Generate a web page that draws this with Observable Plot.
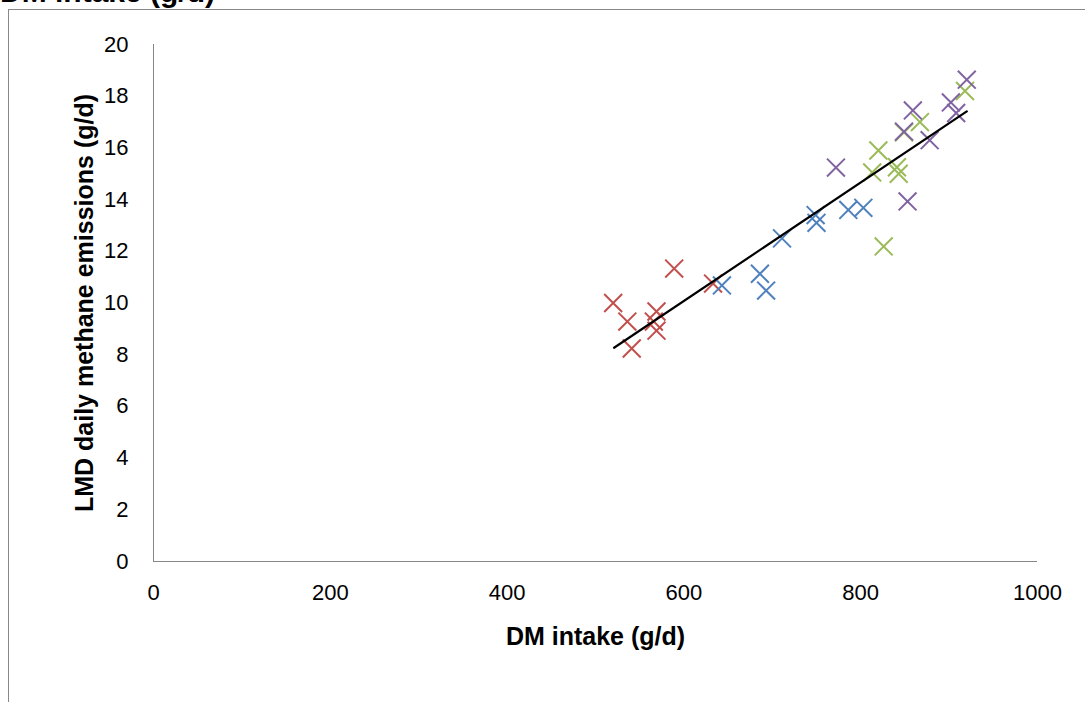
<!DOCTYPE html>
<html><head><meta charset="utf-8">
<script src="https://cdn.jsdelivr.net/npm/d3@7"></script>
<script src="https://cdn.jsdelivr.net/npm/@observablehq/plot@0.6"></script>
<style>
body{margin:0;background:#fff;width:1085px;height:702px;overflow:hidden;position:relative;font-family:"Liberation Sans",Arial,sans-serif}
#frame{position:absolute;left:8px;top:9px;width:1100px;height:720px;border-left:1px solid #888;border-top:1px solid #888;box-sizing:border-box}
#title{position:absolute;left:0;top:-23px;line-height:30px;font-weight:bold;font-size:30px;white-space:nowrap;color:#000}
#chart{position:absolute;left:0;top:0}
</style></head><body>
<div id="title">DM intake (g/d)</div>
<div id="frame"></div>
<div id="chart"></div>
<script>
// Series (DM intake g/d, LMD methane g/d)
const redX = [520, 536, 541, 569, 566, 569, 589, 633];
const redY = [10.0, 9.28, 8.24, 9.67, 9.28, 8.93, 11.33, 10.75];
const blueX = [643, 686, 693, 711, 749, 750, 786, 803];
const blueY = [10.68, 11.13, 10.48, 12.5, 13.4, 13.1, 13.6, 13.68];
const greenX = [826, 820, 813, 841, 843, 849, 867, 918];
const greenY = [12.19, 15.9, 15.05, 15.25, 15.0, 16.6, 17.0, 18.2];
const purpleX = [772, 853, 849, 859, 878, 902, 908, 920];
const purpleY = [15.24, 13.93, 16.63, 17.45, 16.3, 17.76, 17.35, 18.64];
const trendX = [521, 920];
const trendY = [8.27, 17.41];
const xTicks = [0, 200, 400, 600, 800, 1000];
const yTicks = [0, 2, 4, 6, 8, 10, 12, 14, 16, 18, 20];
const xLabel = "DM intake (g/d)";
const yLabel = "LMD daily methane emissions (g/d)";
const seriesColors = {red: "#C0504D", blue: "#4F81BD", green: "#9BBB59", purple: "#8064A2"};

const series = [
  ["red", redX, redY], ["blue", blueX, blueY], ["green", greenX, greenY], ["purple", purpleX, purpleY]
];
const points = series.flatMap(([s, xs, ys]) => xs.map((x, i) => ({s, x, y: ys[i]})));
const trend = trendX.map((x, i) => ({x, y: trendY[i]}));

const chart = Plot.plot({
  width: 1085, height: 702,
  marginLeft: 153, marginRight: 48, marginTop: 44, marginBottom: 141,
  style: {fontFamily: "'Liberation Sans', Arial, sans-serif", fontSize: "22px", color: "#000", background: "transparent", overflow: "visible"},
  x: {domain: [0, 1000]},
  y: {domain: [0, 20]},
  marks: [
    Plot.axisY({ticks: yTicks, tickSize: 0, tickPadding: 25, label: null, fontSize: 22, tickFormat: d => String(d)}),
    Plot.axisX({ticks: xTicks, tickSize: 0, tickPadding: 23, label: null, fontSize: 22, tickFormat: d => String(d)}),
    Plot.ruleX([0], {stroke: "#868686", strokeWidth: 1}),
    Plot.ruleY([0], {stroke: "#868686", strokeWidth: 1}),
    Plot.dot(points, {x: "x", y: "y", symbol: "times", r: 8.2, stroke: d => seriesColors[d.s], strokeWidth: 2}),
    Plot.line(trend, {x: "x", y: "y", stroke: "#000", strokeWidth: 2.2}),
    Plot.text([xLabel], {frameAnchor: "bottom", dy: 75, text: d => d, fontWeight: "bold", fontSize: 25, lineAnchor: "middle"}),
    Plot.text([yLabel], {frameAnchor: "left", dx: -69, text: d => d, rotate: -90, textAnchor: "middle", fontWeight: "bold", fontSize: 25, lineAnchor: "middle"})
  ]
});
document.getElementById("chart").appendChild(chart);
</script>
</body></html>
